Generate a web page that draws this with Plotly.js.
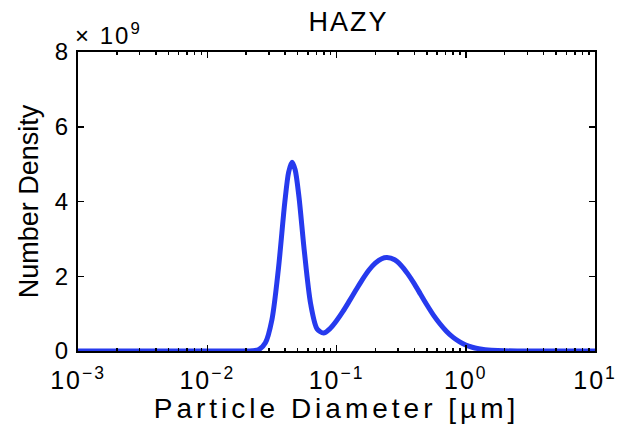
<!DOCTYPE html>
<html>
<head>
<meta charset="utf-8">
<script src="https://cdn.plot.ly/plotly-3.0.1.min.js"></script>
<style>
html,body{margin:0;padding:0;background:#fff;}
#chart{width:617px;height:424px;}
#chart .xtitle{letter-spacing:4px;}
#chart .xtick text{letter-spacing:2px;}
#chart .gtitle{letter-spacing:2px;}
#chart .annotation-text{letter-spacing:2px;}
</style>
</head>
<body>
<div id="chart"></div>
<script>
// Particle diameter [µm]
const diameter = [0.001, 0.00316, 0.01, 0.01778, 0.02239, 0.02512, 0.02818, 0.03162, 0.03548, 0.03981,
  0.04266, 0.04529, 0.04786, 0.05129, 0.05623, 0.0631, 0.07079, 0.07943, 0.08913, 0.1,
  0.1122, 0.1259, 0.1413, 0.1585, 0.1778, 0.1995, 0.2239, 0.246, 0.2818, 0.3162,
  0.3548, 0.3981, 0.4467, 0.5012, 0.5623, 0.631, 0.7079, 0.7943, 0.8913, 1.0,
  1.122, 1.259, 1.413, 1.585, 1.995, 2.512, 3.162, 10];
// Number density, in units of 1e9
const density = [0, 0, 0, 0.0002, 0.006, 0.04, 0.22, 0.83, 2.18, 3.98,
  4.79, 5.05, 4.85, 4.11, 2.71, 1.26, 0.59, 0.48, 0.60, 0.81,
  1.06, 1.34, 1.63, 1.91, 2.16, 2.35, 2.47, 2.5, 2.44, 2.29,
  2.07, 1.81, 1.52, 1.23, 0.96, 0.73, 0.53, 0.37, 0.25, 0.16,
  0.10, 0.061, 0.035, 0.02, 0.0055, 0.001, 0, 0];
const xTickVals = [0.001, 0.01, 0.1, 1, 10];
const xTickText = ['10<sup>−3</sup>', '10<sup>−2</sup>', '10<sup>−1</sup>', '10<sup>0</sup>', '10<sup>1</sup>'];
const xMinorVals = [0.002,0.003,0.004,0.005,0.006,0.007,0.008,0.009,
  0.02,0.03,0.04,0.05,0.06,0.07,0.08,0.09,
  0.2,0.3,0.4,0.5,0.6,0.7,0.8,0.9,
  2,3,4,5,6,7,8,9];
const yTickVals = [0, 2, 4, 6, 8];

const font = 'Liberation Sans, Arial, sans-serif';
const trace = {
  x: diameter, y: density, type: 'scatter', mode: 'lines',
  line: {color: 'rgb(38,58,238)', width: 5, shape: 'spline', smoothing: 0.8},
  hoverinfo: 'skip'
};
const layout = {
  width: 617, height: 424,
  margin: {l: 78, r: 22, t: 52, b: 73},
  paper_bgcolor: '#fff', plot_bgcolor: '#fff',
  showlegend: false,
  font: {family: font, color: '#000'},
  title: {text: 'HAZY', font: {size: 27, family: font, color: '#000'}, x: 0.565, xanchor: 'center', y: 0.948, yanchor: 'middle'},
  xaxis: {
    type: 'log', range: [-3, 1],
    tickmode: 'array', tickvals: xTickVals, ticktext: xTickText,
    ticks: 'inside', ticklen: 6, tickwidth: 1.5, tickcolor: '#000',
    minor: {tickmode: 'array', tickvals: xMinorVals, ticks: 'inside', ticklen: 3, tickwidth: 1.5, tickcolor: '#000', showgrid: false},
    showline: true, linecolor: '#000', linewidth: 2, mirror: 'ticks',
    showgrid: false, zeroline: false,
    ticklabelstandoff: 6,
    tickfont: {size: 25, family: font, color: '#000'},
    title: {text: 'Particle Diameter [µm]', font: {size: 28, family: font, color: '#000'}, standoff: 1}
  },
  yaxis: {
    range: [0, 8],
    tickmode: 'array', tickvals: yTickVals,
    ticks: 'inside', ticklen: 6, tickwidth: 1.5, tickcolor: '#000',
    showline: true, linecolor: '#000', linewidth: 2, mirror: 'ticks',
    showgrid: false, zeroline: false,
    ticklabelstandoff: 3,
    tickfont: {size: 24, family: font, color: '#000'},
    title: {text: 'Number Density', font: {size: 27, family: font, color: '#000'}, standoff: 8}
  },
  annotations: [{
    xref: 'paper', yref: 'paper', x: 0, y: 1, xanchor: 'left', yanchor: 'bottom', xshift: 0, yshift: 1,
    text: '× 10<sup>9</sup>', showarrow: false, font: {size: 24, family: font, color: '#000'}
  }]
};
Plotly.newPlot('chart', [trace], layout, {displayModeBar: false, staticPlot: true});
</script>
</body>
</html>
